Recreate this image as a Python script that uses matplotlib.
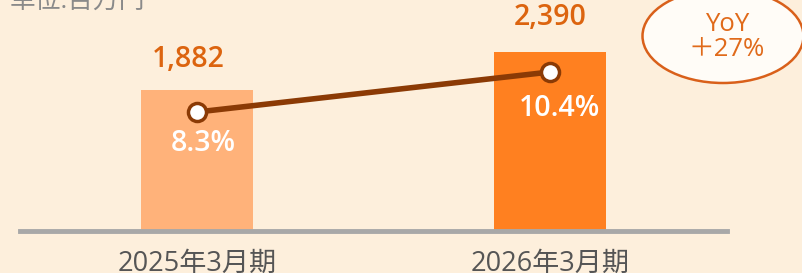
import matplotlib
matplotlib.use("Agg")
import matplotlib.pyplot as plt
from matplotlib.patches import Ellipse

plt.rcParams['font.family'] = ['Open Sans', 'Noto Sans CJK JP', 'DejaVu Sans']

periods = ["2025年3月期", "2026年3月期"]
sales = [1882, 2390]
margin = [8.3, 10.4]
bar_colors = ["#FFB27A", "#FF8020"]
yoy_text = "YoY\n＋27%"
unit_text = "単位:百万円"

bg = "#FDEFDC"

fig = plt.figure(figsize=(8.02, 2.73), dpi=100)
fig.patch.set_facecolor(bg)
ax = fig.add_axes([0, 0, 1, 1])
ax.set_facecolor(bg)

x = list(range(len(periods)))
ax.bar(x, sales, width=0.317, color=bar_colors, zorder=2)
ax.set_xlim(-0.558, 1.714)
ax.set_ylim(-561, 3084)

# baseline
ax.axhline(0, xmin=0.025, xmax=0.906, color="#A8A8A8", lw=3.5, zorder=3)

val_off = [(-6, 22), (0, 25)]
for i, v in enumerate(sales):
    ax.annotate(f"{v:,}", (x[i], v), xytext=val_off[i],
                textcoords="offset points", ha="center", va="center",
                fontsize=20.5, fontweight="semibold", color="#DC640F")

for i, p in enumerate(periods):
    ax.annotate(p, (x[i], 0), xytext=(0, -29), textcoords="offset points",
                ha="center", va="baseline", fontsize=19.5, color="#555555")

ax2 = ax.twinx()
ax2.set_ylim(-0.15, 14.18)
ax2.plot(x, margin, color="#8B3A05", lw=4, zorder=4,
         marker="o", markersize=13, markerfacecolor="white",
         markeredgecolor="#8B3A05", markeredgewidth=2.5)
pct_off = [(4.5, -23), (6.5, -26)]
for i, m in enumerate(margin):
    ax2.annotate(f"{m}%", (x[i], m), xytext=pct_off[i], textcoords="offset points",
                 ha="center", va="center", fontsize=20.5, fontweight="semibold",
                 color="white")

for a in (ax, ax2):
    a.axis("off")

ax.text(0.012, 1 - 9 / 273, unit_text, transform=ax.transAxes, ha="left",
        va="baseline", fontsize=18.5, color="#8A8A8A")

ell = Ellipse((723 / 802, 1 - 36 / 273), 161 / 802, 94 / 273,
              transform=ax.transAxes, facecolor="#FFFCF7",
              edgecolor="#D9601A", lw=1.8, zorder=5)
ax.add_patch(ell)
ax.text(727 / 802, 1 - 37 / 273, yoy_text, transform=ax.transAxes,
        ha="center", va="center", fontsize=18.5, fontweight="normal",
        color="#E06A1A", linespacing=1.0, zorder=6)

fig.savefig("out.png", dpi=100, facecolor=bg)
